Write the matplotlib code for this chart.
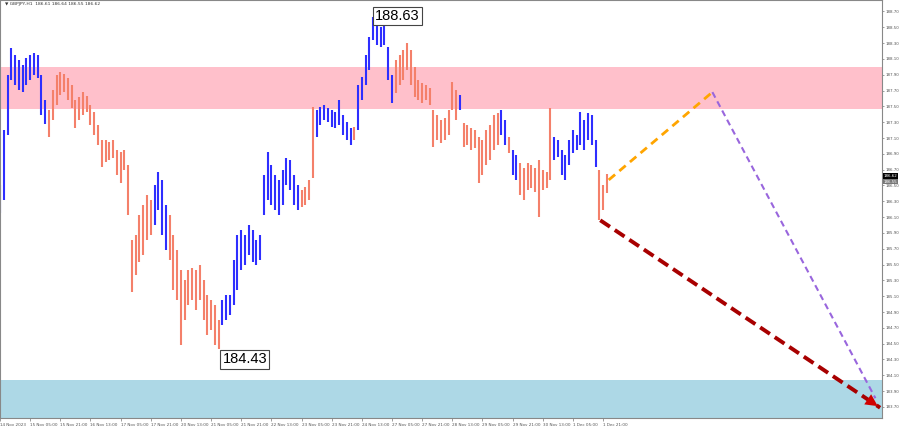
import matplotlib
matplotlib.use("Agg")
import matplotlib.pyplot as plt

# 2-hour bars (hour index counts trading hours from 14 Nov 13:00)
bar_high = [
    186.51, 187.20, 187.90, 188.24, 188.15, 188.09, 188.02, 188.11, 188.15, 188.18,
    188.15, 187.90, 187.58, 187.45, 187.71, 187.90, 187.93, 187.91, 187.86, 187.77,
    187.58, 187.62, 187.68, 187.63, 187.52, 187.43, 187.26, 187.07, 187.07, 187.05,
    187.07, 186.95, 186.92, 186.95, 186.76, 185.81, 185.87, 186.13, 186.25, 186.38,
    186.32, 186.51, 186.67, 186.57, 186.25, 186.13, 185.87, 185.68, 185.43, 185.31,
    185.43, 185.46, 185.43, 185.50, 185.31, 185.12, 185.05, 184.99, 184.80, 185.05,
    185.12, 185.12, 185.56, 185.87, 185.94, 185.87, 186.00, 185.94, 185.81, 185.87,
    186.63, 186.92, 186.76, 186.63, 186.57, 186.70, 186.85, 186.82, 186.63, 186.51,
    186.44, 186.48, 186.57, 187.49, 187.45, 187.49, 187.52, 187.48, 187.45, 187.43,
    187.58, 187.39, 187.30, 187.23, 187.24, 187.77, 187.87, 188.15, 188.38, 188.63,
    188.57, 188.50, 188.53, 188.25, 187.90, 188.09, 188.15, 188.21, 188.30, 188.21,
    188.00, 187.83, 187.80, 187.77, 187.73, 187.45, 187.39, 187.33, 187.35, 187.45,
    187.81, 187.71, 187.64, 187.29, 187.26, 187.23, 187.20, 187.11, 187.07, 187.20,
    187.26, 187.39, 187.42, 187.45, 187.33, 187.11, 186.95, 186.89, 186.78, 186.72,
    186.78, 186.76, 186.72, 186.82, 186.70, 186.67, 187.48, 187.11, 187.07, 186.95,
    186.89, 187.07, 187.20, 187.14, 187.43, 187.33, 187.42, 187.39, 187.07, 186.70,
    186.51, 186.64,
]
bar_low = [
    186.15, 186.32, 187.14, 187.83, 187.77, 187.71, 187.68, 187.77, 187.83, 187.90,
    187.86, 187.39, 187.28, 187.11, 187.33, 187.52, 187.64, 187.68, 187.58, 187.48,
    187.23, 187.33, 187.39, 187.43, 187.26, 187.14, 187.01, 186.73, 186.80, 186.82,
    186.85, 186.63, 186.53, 186.70, 186.13, 185.15, 185.37, 185.53, 185.62, 185.81,
    185.87, 186.00, 186.19, 185.87, 185.68, 185.56, 185.18, 185.05, 184.48, 184.80,
    184.99, 185.05, 184.93, 185.05, 184.80, 184.61, 184.67, 184.48, 184.43, 184.74,
    184.80, 184.86, 184.99, 185.18, 185.43, 185.50, 185.62, 185.53, 185.50, 185.56,
    186.13, 186.32, 186.25, 186.19, 186.13, 186.25, 186.51, 186.44, 186.25, 186.19,
    186.23, 186.25, 186.32, 186.60, 187.11, 187.26, 187.33, 187.30, 187.24, 187.23,
    187.26, 187.14, 187.07, 187.01, 187.07, 187.20, 187.58, 187.77, 187.96, 188.34,
    188.28, 188.25, 188.28, 187.83, 187.54, 187.67, 187.77, 187.83, 187.96, 187.77,
    187.62, 187.58, 187.54, 187.58, 187.52, 186.99, 187.07, 187.04, 187.07, 187.14,
    187.45, 187.33, 187.45, 186.99, 187.01, 186.95, 186.97, 186.53, 186.63, 186.76,
    186.82, 186.95, 187.01, 187.14, 187.01, 186.91, 186.63, 186.57, 186.38, 186.32,
    186.44, 186.47, 186.42, 186.10, 186.44, 186.47, 186.57, 186.82, 186.86, 186.63,
    186.57, 186.76, 186.91, 186.95, 187.01, 186.95, 187.07, 187.01, 186.73, 186.06,
    186.19, 186.40,
]
bar_hour = [2 * k for k in range(len(bar_high))]

# bar index ranges belonging to rising waves (drawn blue), the rest are falling waves
up_waves = [(0, 12), (41, 44), (59, 79), (84, 93), (95, 104), (122, 122),
            (133, 134), (136, 137), (147, 158)]

resistance_zone = (187.47, 188.00)
support_zone = (183.50, 184.04)

# forecast paths (hour, price)
orange_hours, orange_prices = [323, 378], [186.57, 187.68]
purple_hours, purple_prices = [378, 464.5], [187.68, 183.81]
red_hours, red_prices = [318.5, 467], [186.06, 183.69]

peak_hour, peak_price = 198, 188.63
low_hour, low_price = 116, 184.43

tick_labels = [
    "14 Nov 2023", "15 Nov 05:00", "15 Nov 21:00", "16 Nov 13:00", "17 Nov 05:00",
    "17 Nov 21:00", "20 Nov 13:00", "21 Nov 05:00", "21 Nov 21:00", "22 Nov 13:00",
    "23 Nov 05:00", "23 Nov 21:00", "24 Nov 13:00", "27 Nov 05:00", "27 Nov 21:00",
    "28 Nov 13:00", "29 Nov 05:00", "29 Nov 21:00", "30 Nov 13:00", "1 Dec 05:00",
    "1 Dec 21:00",
]
tick_hours = [16 * i for i in range(len(tick_labels))]
price_ticks = [183.70 + 0.2 * i for i in range(26)]

BLUE = "#2e2eff"
SALMON = "#f4806a"

fig = plt.figure(figsize=(9, 4.3), dpi=100)
ax = fig.add_axes([0.0, 12 / 430, 882 / 900, 418 / 430])
ax.set_xlim(0, 468)
ax.set_ylim(183.56, 188.845)

ax.axhspan(*resistance_zone, color="#ffc0cb", lw=0, zorder=0)
ax.axhspan(*support_zone, color="#add8e6", lw=0, zorder=0)

colors = []
for k in range(len(bar_high)):
    up = any(a <= k <= b for a, b in up_waves)
    colors.append(BLUE if up else SALMON)
ax.vlines(bar_hour, bar_low, bar_high, colors=colors, lw=1.5, zorder=2)

ax.plot(orange_hours, orange_prices, ls=(0, (3, 2)), color="#ffa500", lw=2, zorder=3)
ax.plot(purple_hours, purple_prices, ls=(0, (3, 2)), color="#9966dd", lw=1.5, zorder=3)
ax.plot(red_hours, red_prices, ls=(0, (3, 1.5)), color="#a80000", lw=2.8, zorder=3)
ax.annotate("", xy=(red_hours[1], red_prices[1]),
            xytext=(red_hours[1] - 9, red_prices[1] + 0.145),
            arrowprops=dict(arrowstyle="-|>", color="#d00000", lw=0,
                            mutation_scale=22), zorder=4)

box = dict(boxstyle="square,pad=0.15", facecolor="white", edgecolor="#444", lw=0.8)
ax.text(peak_hour + 1, peak_price + 0.01, f"{peak_price:.2f}", fontsize=10.5,
        family="Liberation Sans", va="center", ha="left", bbox=box, zorder=5)
ax.text(low_hour + 2, low_price - 0.13, f"{low_price:.2f}", fontsize=10.5,
        family="Liberation Sans", va="center", ha="left", bbox=box, zorder=5)

ax.text(0.006, 0.995, "\u25bc GBPJPY,H1  186.61 186.64 186.55 186.62",
        transform=ax.transAxes, fontsize=3.2, color="#333", va="top")

ax.set_xticks(tick_hours)
ax.set_xticklabels(tick_labels, fontsize=3.0, color="#555", ha="left")
ax.yaxis.tick_right()
ax.set_yticks(price_ticks)
ax.set_yticklabels([f"{p:.2f}" for p in price_ticks], fontsize=2.9, color="#555")
ax.tick_params(axis="x", length=2, width=0.5, color="#777", pad=1.5)
ax.tick_params(axis="y", length=1.5, width=0.5, color="#777", pad=0.8)

# current bid / ask tags on the price scale
ax.text(1.002, 186.62, "186.62", transform=ax.get_yaxis_transform(), fontsize=2.9,
        color="white", va="center", bbox=dict(boxstyle="square,pad=0.2", fc="black", lw=0))
ax.text(1.002, 186.55, "186.55", transform=ax.get_yaxis_transform(), fontsize=2.9,
        color="white", va="center", bbox=dict(boxstyle="square,pad=0.2", fc="#777", lw=0))

for side in ["left", "bottom", "right", "top"]:
    ax.spines[side].set_color("#888")
    ax.spines[side].set_linewidth(0.8)

fig.savefig("out.png", dpi=100)
